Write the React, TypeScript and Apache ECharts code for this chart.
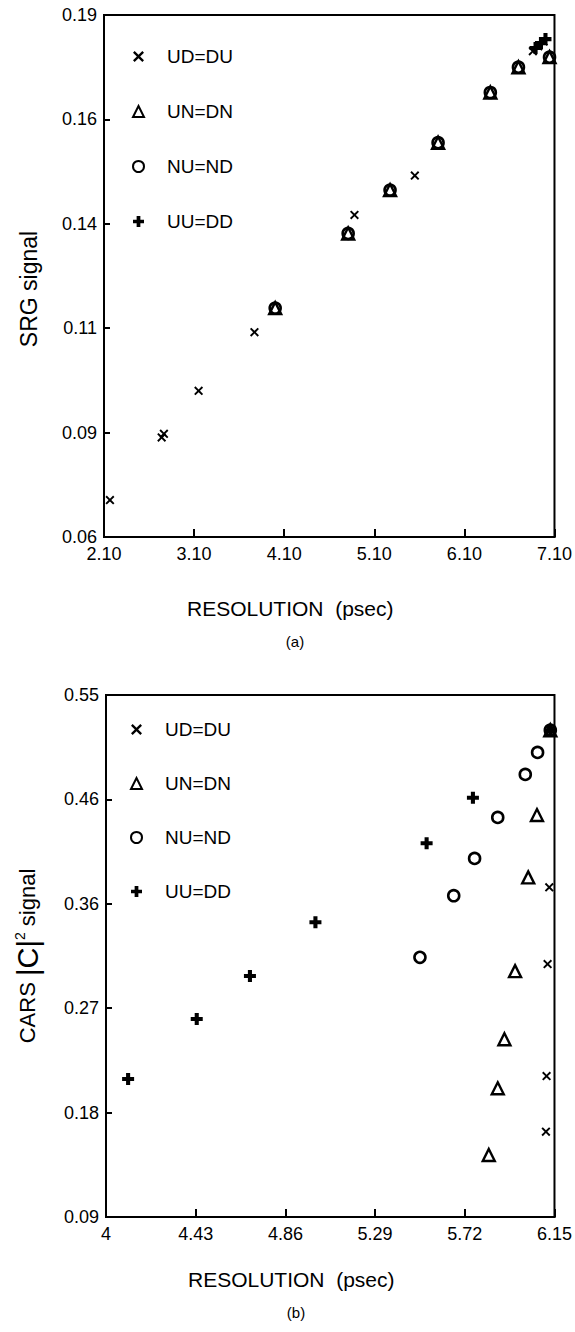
import React, { useEffect, useRef } from "react";
import * as echarts from "echarts";

// ---------- Panel (a): SRG signal ----------
const A_X_TICKS = ["2.10", "3.10", "4.10", "5.10", "6.10", "7.10"];
const A_Y_TICKS = ["0.06", "0.09", "0.11", "0.14", "0.16", "0.19"];
const A_UD_DU: [number, number][] = [
  [2.166, 0.0692], [2.74, 0.0848], [2.765, 0.0857], [3.15, 0.0964], [3.77, 0.111],
  [4.88, 0.1402], [5.55, 0.150], [6.86, 0.181], [6.92, 0.1822], [6.98, 0.1834],
];
const A_UN_DN: [number, number][] = [
  [4.0, 0.117], [4.81, 0.1356], [5.275, 0.1464], [5.808, 0.1582], [6.388, 0.1707],
  [6.70, 0.177], [7.045, 0.1795],
];
const A_NU_ND: [number, number][] = [
  [4.0, 0.117], [4.81, 0.1356], [5.275, 0.1464], [5.808, 0.1582], [6.388, 0.1707],
  [6.70, 0.177], [7.045, 0.1795],
];
const A_UU_DD: [number, number][] = [
  [6.89, 0.1818], [6.95, 0.1830], [7.0, 0.1840],
];

// ---------- Panel (b): CARS |C|^2 signal ----------
const B_X_TICKS = ["4", "4.43", "4.86", "5.29", "5.72", "6.15"];
const B_Y_TICKS = ["0.09", "0.18", "0.27", "0.36", "0.46", "0.55"];
const B_UD_DU: [number, number][] = [
  [6.109, 0.1652], [6.112, 0.2142], [6.117, 0.3129], [6.125, 0.3805], [6.13, 0.519],
];
const B_UN_DN: [number, number][] = [
  [5.835, 0.1446], [5.878, 0.2034], [5.91, 0.2466], [5.961, 0.3067], [6.024, 0.3893],
  [6.066, 0.4442], [6.13, 0.519],
];
const B_NU_ND: [number, number][] = [
  [5.505, 0.3188], [5.667, 0.3731], [5.767, 0.406], [5.878, 0.4421], [6.01, 0.48],
  [6.069, 0.4994], [6.13, 0.519],
];
const B_UU_DD: [number, number][] = [
  [4.106, 0.2116], [4.435, 0.2645], [4.69, 0.3024], [5.004, 0.3497], [5.537, 0.4193],
  [5.759, 0.4595], [6.13, 0.519],
];

const SERIES_NAMES = ["UD=DU", "UN=DN", "NU=ND", "UU=DD"];

const FONT = "'Liberation Sans', Arial, Helvetica, sans-serif";
const X_SYM = "path://M0,1.5L1.5,0L5,3.5L8.5,0L10,1.5L6.5,5L10,8.5L8.5,10L5,6.5L1.5,10L0,8.5L3.5,5Z";
const PLUS_SYM = "path://M3.3,0H6.7V3.3H10V6.7H6.7V10H3.3V6.7H0V3.3H3.3Z";

const labelFrom = (labels: string[], min: number, step: number) => (v: number) => {
  const i = Math.round((v - min) / step);
  return labels[i] ?? "";
};

function makeAxis(gridIndex: number, min: number, max: number, interval: number, labels: string[], isX: boolean, name: string, extra: any) {
  return {
    type: "value",
    gridIndex,
    min,
    max,
    interval,
    name,
    nameLocation: "middle",
    ...extra,
    axisLine: { show: true, onZero: false, lineStyle: { color: "#000", width: 2 } },
    axisTick: { show: true, inside: true, length: isX ? 8 : 6, lineStyle: { color: "#000", width: 2 } },
    splitLine: { show: false },
    axisLabel: {
      color: "#000",
      fontFamily: FONT,
      fontSize: 18,
      margin: isX ? 8 : 7,
      formatter: labelFrom(labels, min, interval),
    },
  };
}

function seriesSet(xi: number, data: [number, number][][]) {
  const styles = [
    { symbol: X_SYM, symbolSize: 9, itemStyle: { color: "#000", opacity: 1 } },
    { symbol: "triangle", symbolSize: 12, itemStyle: { color: "rgba(0,0,0,0)", borderColor: "#000", borderWidth: 2.4, opacity: 1 } },
    { symbol: "circle", symbolSize: 11, itemStyle: { color: "rgba(0,0,0,0)", borderColor: "#000", borderWidth: 2.6, opacity: 1 } },
    { symbol: PLUS_SYM, symbolSize: 12, itemStyle: { color: "#000", opacity: 1 } },
  ];
  return data.map((d, i) => ({
    type: "scatter",
    name: SERIES_NAMES[i],
    xAxisIndex: xi,
    yAxisIndex: xi,
    data: d,
    clip: false,
    ...styles[i],
  }));
}

function legendAt(left: number, top: number, gap: number) {
  return {
    orient: "vertical",
    left,
    top,
    padding: 0,
    itemGap: gap,
    itemWidth: 11,
    itemHeight: 11,
    selectedMode: false,
    data: SERIES_NAMES,
    textStyle: { color: "#000", fontFamily: FONT, fontSize: 19, padding: [0, 0, 0, 18] },
  };
}

export default function App() {
  const ref = useRef<HTMLDivElement>(null);
  useEffect(() => {
    document.body.style.margin = "0";
    const chart = echarts.init(ref.current!, undefined, { renderer: "svg" });
    const option: any = {
      animation: false,
      backgroundColor: "#fff",
      textStyle: { fontFamily: FONT },
      grid: [
        { left: 104, top: 15, width: 454, height: 522, show: true, borderColor: "#000", borderWidth: 2 },
        { left: 106, top: 695, width: 451, height: 522, show: true, borderColor: "#000", borderWidth: 2 },
      ],
      xAxis: [
        makeAxis(0, 2.1, 7.1, 1, A_X_TICKS, true, "RESOLUTION  (psec)", {
          nameGap: 61,
          nameTextStyle: { color: "#000", fontFamily: FONT, fontSize: 21, padding: [0, 78, 0, 0] },
        }),
        makeAxis(1, 4, 6.15, 0.43, B_X_TICKS, true, "RESOLUTION  (psec)", {
          nameGap: 52,
          nameTextStyle: { color: "#000", fontFamily: FONT, fontSize: 21, padding: [0, 78, 0, 0] },
        }),
      ],
      yAxis: [
        makeAxis(0, 0.06, 0.19, 0.026, A_Y_TICKS, false, "SRG signal", {
          nameGap: 64,
          nameRotate: 90,
          nameTextStyle: { color: "#000", fontFamily: FONT, fontSize: 23, padding: [0, 26, 0, 0] },
        }),
        makeAxis(1, 0.09, 0.55, 0.092, B_Y_TICKS, false, "{a|CARS }{b||C|}{s|2}{a| signal}", {
          nameGap: 64,
          nameRotate: 90,
          nameTextStyle: {
            color: "#000",
            fontFamily: FONT,
            rich: {
              a: { fontSize: 22, fontFamily: FONT, color: "#000" },
              b: { fontSize: 29, fontFamily: FONT, color: "#000" },
              s: { fontSize: 14, fontFamily: FONT, color: "#000", verticalAlign: "top" },
            },
          },
        }),
      ],
      legend: [legendAt(132, 47, 36), legendAt(130, 720, 35)],
      series: [
        ...seriesSet(0, [A_UD_DU, A_UN_DN, A_NU_ND, A_UU_DD]),
        ...seriesSet(1, [B_UD_DU, B_UN_DN, B_NU_ND, B_UU_DD]),
      ],
      graphic: [
        { type: "text", x: 295, y: 641, style: { text: "(a)", fill: "#000", font: `15px ${FONT}`, align: "center", verticalAlign: "middle" } },
        { type: "text", x: 296, y: 1312, style: { text: "(b)", fill: "#000", font: `15px ${FONT}`, align: "center", verticalAlign: "middle" } },
      ],
    };
    chart.setOption(option);
    return () => chart.dispose();
  }, []);
  return <div ref={ref} style={{ width: 575, height: 1332 }} />;
}
